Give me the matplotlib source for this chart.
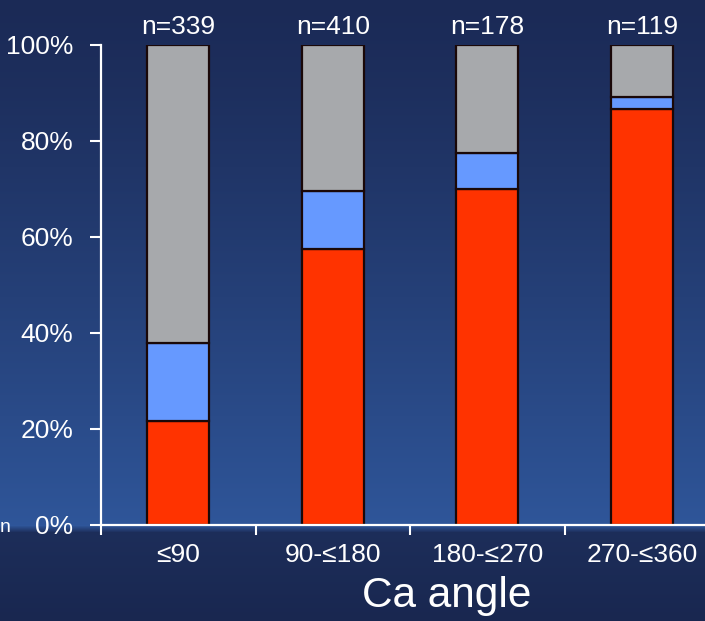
import numpy as np
import matplotlib
matplotlib.use("Agg")
import matplotlib.pyplot as plt

plt.rcParams["font.family"] = ["Liberation Sans", "DejaVu Sans"]

# stacked shares per Ca angle group (percent)
categories = ["\u226490", "90-\u2264180", "180-\u2264270", "270-\u2264360"]
counts = [339, 410, 178, 119]
red_pct = [21.6, 57.6, 70.1, 86.7]
blue_pct = [16.4, 11.9, 7.5, 2.4]
grey_pct = [100 - r - b for r, b in zip(red_pct, blue_pct)]

W, H = 705, 621
fig = plt.figure(figsize=(W / 100, H / 100), dpi=100)

# background: navy gradient above the axis line, darker band below
bg = fig.add_axes([0, 0, 1, 1], zorder=-10)
bg.set_axis_off()
rows = np.arange(H)
split = 528
frac = np.clip(rows / split, 0, 1)
top = np.array([0x1b, 0x2a, 0x56]) / 255
low = np.array([0x2f, 0x56, 0x9a]) / 255
band_top = np.array([0x1d, 0x2e, 0x5a]) / 255
band_bot = np.array([0x19, 0x27, 0x50]) / 255
col = np.empty((H, 3))
upper = rows < split
col[upper] = top + (low - top) * frac[upper, None] ** 1.2
t = (rows[~upper] - split) / (H - split)
col[~upper] = band_top + (band_bot - band_top) * t[:, None]
# soft edge between the two regions
for i in range(split - 3, split + 4):
    w = (i - (split - 3)) / 7
    col[i] = low * (1 - w) + band_top * w
img = np.repeat(col[:, None, :], 8, axis=1)
bg.imshow(img, aspect="auto", extent=[0, 1, 0, 1], transform=bg.transAxes)

ax = fig.add_axes([101 / W, (H - 525) / H, (W - 101) / W, 480 / H])
ax.patch.set_alpha(0)

x = np.arange(len(categories))
kw = dict(width=0.40, edgecolor="#1a0808", linewidth=1.6)
ax.bar(x, red_pct, color="#ff3300", **kw)
ax.bar(x, blue_pct, bottom=red_pct, color="#6699ff", **kw)
ax.bar(x, grey_pct, bottom=np.add(red_pct, blue_pct), color="#a7a9ac", **kw)

ax.set_ylim(0, 100)
ax.set_xlim(-0.5, (W - 178) / 154.6)
ax.set_yticks([0, 20, 40, 60, 80, 100])
ax.set_yticklabels(["0%", "20%", "40%", "60%", "80%", "100%"])

ax.set_xticks(x)
ax.set_xticklabels(categories)
ax.set_xticks(np.arange(len(categories)) - 0.5, minor=True)
ax.tick_params(axis="x", which="major", length=0, pad=13, labelsize=19,
               colors="white")
ax.tick_params(axis="x", which="minor", length=7, width=1.5, colors="white",
               direction="out")
ax.tick_params(axis="y", length=8, width=1.5, direction="out", pad=12,
               labelsize=19, colors="white")

for side in ["top", "right"]:
    ax.spines[side].set_visible(False)
for side in ["left", "bottom"]:
    ax.spines[side].set_color("white")
    ax.spines[side].set_linewidth(1.6)

for xi, n in zip(x, counts):
    ax.text(xi, 101.2, f"n={n}", ha="center", va="bottom", fontsize=19,
            color="white", clip_on=False)

fig.text(447 / W, 1 - 596 / H, "Ca angle", ha="center", va="center",
         fontsize=30.5, color="white")
fig.text(0, 1 - 527 / H, "n", ha="left", va="center", fontsize=14,
         color="white")

fig.savefig("out.png", dpi=100)
